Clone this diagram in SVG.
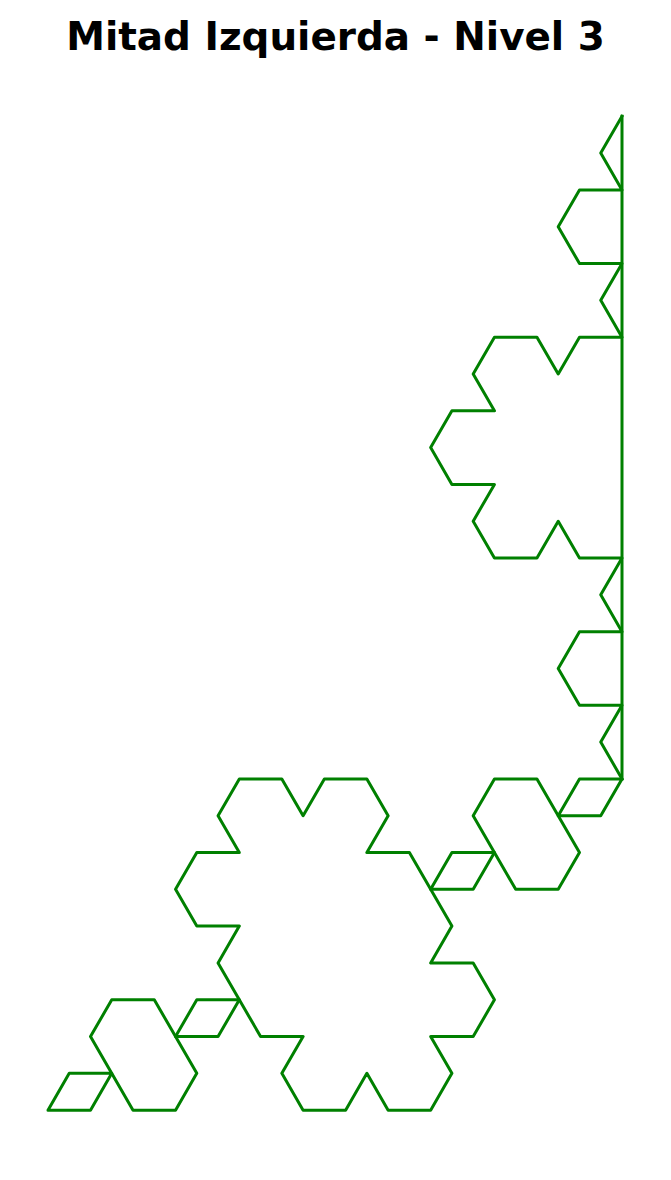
<svg xmlns="http://www.w3.org/2000/svg" width="671" height="1180" viewBox="0 0 671 1180">
<style>
.t{font-family:"DejaVu Sans","Liberation Sans",sans-serif;font-weight:bold;font-size:38.9px;fill:#000;text-anchor:middle}
.c{fill:none;stroke:#008000;stroke-width:3;stroke-linejoin:round;stroke-linecap:square}
</style>
<rect width="671" height="1180" fill="#fff"/>
<g id="title"><text class="t" x="335.5" y="50">Mitad Izquierda - Nivel 3</text></g>
<g id="curve">
<path class="c" d="M622,116.3 L600.74,153.11 L622,189.92 L579.48,189.92 L558.22,226.73 L579.48,263.54 L622,263.54 L600.74,300.35 L622,337.16 L579.48,337.16 L558.22,373.97 L536.96,337.16 L494.44,337.16 L473.18,373.97 L494.44,410.78 L451.92,410.78 L430.66,447.59 L451.92,484.4 L494.44,484.4 L473.18,521.21 L494.44,558.02 L536.96,558.02 L558.22,521.21 L579.48,558.02 L622,558.02 L600.74,594.83 L622,631.64 L579.48,631.64 L558.22,668.45 L579.48,705.26 L622,705.26 L600.74,742.07 L622,778.88"/>
<path class="c" d="M622,116.3 L622,778.88"/>
<path class="c" d="M622,778.88 L579.48,778.88 L558.22,815.69 L600.74,815.69 Z"/>
<path class="c" d="M494.44,778.88 L536.96,778.88 L579.48,852.5 L558.22,889.31 L515.7,889.31 L473.18,815.69 Z"/>
<path class="c" d="M430.66,889.31 L451.92,852.5 L494.44,852.5 L473.18,889.31 Z"/>
<path class="c" d="M239.32,778.88 L281.84,778.88 L303.1,815.69 L324.36,778.88 L366.88,778.88 L388.14,815.69 L366.88,852.5 L409.4,852.5 L451.92,926.12 L430.66,962.93 L473.18,962.93 L494.44,999.74 L473.18,1036.55 L430.66,1036.55 L451.92,1073.36 L430.66,1110.17 L388.14,1110.17 L366.88,1073.36 L345.62,1110.17 L303.1,1110.17 L281.84,1073.36 L303.1,1036.55 L260.58,1036.55 L218.06,962.93 L239.32,926.12 L196.8,926.12 L175.54,889.31 L196.8,852.5 L239.32,852.5 L218.06,815.69 Z"/>
<path class="c" d="M175.54,1036.55 L196.8,999.74 L239.32,999.74 L218.06,1036.55 Z"/>
<path class="c" d="M111.76,999.74 L154.28,999.74 L196.8,1073.36 L175.54,1110.17 L133.02,1110.17 L90.5,1036.55 Z"/>
<path class="c" d="M47.98,1110.17 L69.24,1073.36 L111.76,1073.36 L90.5,1110.17 Z"/>
</g>
</svg>
